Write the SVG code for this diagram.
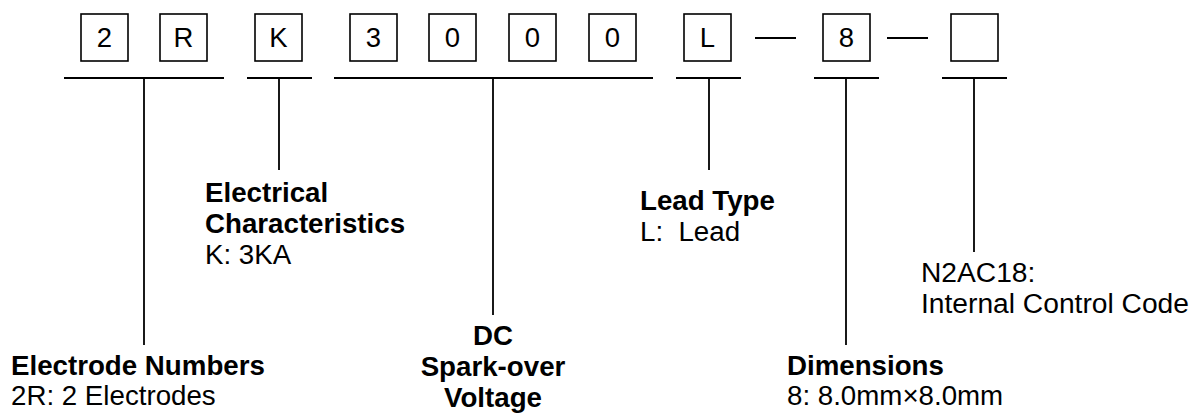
<svg xmlns="http://www.w3.org/2000/svg" width="1195" height="415" viewBox="0 0 1195 415">
<style>
.box{fill:#fff;stroke:#000;stroke-width:1.6}
.ch{font-family:"Liberation Sans",Arial,sans-serif;font-size:27.5px;text-anchor:middle;fill:#000}
.ln{stroke:#000;stroke-width:1.8;fill:none}
.t{font-family:"Liberation Sans",Arial,sans-serif;font-size:27.7px;fill:#000}
.b{font-weight:bold}
</style>
<rect width="1195" height="415" fill="#fff"/>
<g id="code">
<g id="box-2"><rect class="box" x="81" y="14" width="47" height="47"/><text class="ch" x="104.5" y="46.5">2</text></g>
<g id="box-R"><rect class="box" x="160" y="14" width="47" height="47"/><text class="ch" x="183.5" y="46.5">R</text></g>
<g id="box-K"><rect class="box" x="255" y="14" width="47" height="47"/><text class="ch" x="278.5" y="46.5">K</text></g>
<g id="box-3"><rect class="box" x="350" y="14" width="47" height="47"/><text class="ch" x="373.5" y="46.5">3</text></g>
<g id="box-0a"><rect class="box" x="429" y="14" width="47" height="47"/><text class="ch" x="452.5" y="46.5">0</text></g>
<g id="box-0b"><rect class="box" x="509" y="14" width="47" height="47"/><text class="ch" x="532.5" y="46.5">0</text></g>
<g id="box-0c"><rect class="box" x="589" y="14" width="47" height="47"/><text class="ch" x="612.5" y="46.5">0</text></g>
<g id="box-L"><rect class="box" x="684" y="14" width="47" height="47"/><text class="ch" x="707.5" y="46.5">L</text></g>
<g id="box-8"><rect class="box" x="823" y="14" width="47" height="47"/><text class="ch" x="846.5" y="46.5">8</text></g>
<g id="box-empty"><rect class="box" x="951" y="14" width="47" height="47"/></g>
</g>
<g id="connectors">
<line class="ln" x1="755" y1="38" x2="796" y2="38"/>
<line class="ln" x1="887" y1="38" x2="928" y2="38"/>
<line class="ln" x1="64" y1="78" x2="224" y2="78"/>
<line class="ln" x1="144" y1="78" x2="144" y2="345"/>
<line class="ln" x1="247" y1="78" x2="312" y2="78"/>
<line class="ln" x1="279" y1="78" x2="279" y2="170"/>
<line class="ln" x1="334" y1="78" x2="653" y2="78"/>
<line class="ln" x1="493" y1="78" x2="493" y2="315"/>
<line class="ln" x1="676" y1="78" x2="741" y2="78"/>
<line class="ln" x1="709" y1="78" x2="709" y2="170"/>
<line class="ln" x1="814" y1="78" x2="879" y2="78"/>
<line class="ln" x1="846" y1="78" x2="846" y2="345"/>
<line class="ln" x1="942" y1="78" x2="1007" y2="78"/>
<line class="ln" x1="974" y1="78" x2="974" y2="252"/>
</g>
<g id="label-electrode">
<text class="t b" x="11" y="375">Electrode Numbers</text>
<text class="t" x="11" y="405">2R: 2 Electrodes</text>
</g>
<g id="label-electrical">
<text class="t b" x="205" y="202">Electrical</text>
<text class="t b" x="205" y="233">Characteristics</text>
<text class="t" x="205" y="264">K: 3KA</text>
</g>
<g id="label-dc">
<text class="t b" x="493" y="345" text-anchor="middle">DC</text>
<text class="t b" x="493" y="376" text-anchor="middle">Spark-over</text>
<text class="t b" x="493" y="407" text-anchor="middle">Voltage</text>
</g>
<g id="label-lead">
<text class="t b" x="640" y="210">Lead Type</text>
<text class="t" x="640" y="241" xml:space="preserve">L:  Lead</text>
</g>
<g id="label-dimensions">
<text class="t b" x="787" y="375">Dimensions</text>
<text class="t" x="787" y="405">8: 8.0mm×8.0mm</text>
</g>
<g id="label-internal">
<text class="t" x="921" y="282" style="font-size:28.2px">N2AC18:</text>
<text class="t" x="921" y="313" style="font-size:28.2px">Internal Control Code</text>
</g>
</svg>
